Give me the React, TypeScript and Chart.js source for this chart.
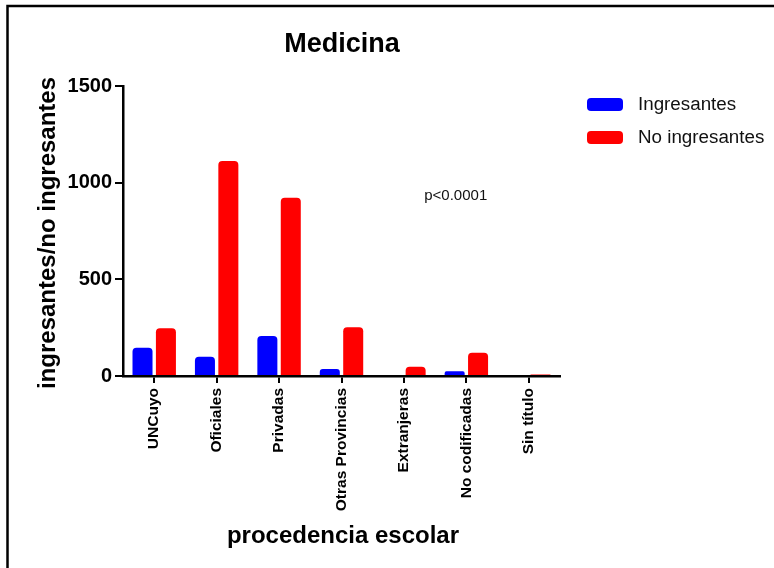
import React, { useEffect, useRef } from "react";
import { Chart, registerables } from "chart.js";

Chart.register(...registerables);

const categories = ["UNCuyo", "Oficiales", "Privadas", "Otras Provincias", "Extranjeras", "No codificadas", "Sin título"];
const ingresantes = [146, 100, 207, 36, 0, 24, 0];
const noIngresantes = [247, 1112, 922, 252, 48, 120, 8];
const yTicks = [0, 500, 1000, 1500];
const seriesNames = ["Ingresantes", "No ingresantes"];
const seriesColors = ["#0000FF", "#FF0000"];
const titleText = "Medicina";
const xTitle = "procedencia escolar";
const yTitle = "ingresantes/no ingresantes";
const pText = "p<0.0001";

const FONT = "'Liberation Sans', Arial, Helvetica, sans-serif";

const decorPlugin = {
  id: "decor",
  afterDraw(chart: any) {
    const ctx = chart.ctx as CanvasRenderingContext2D;
    const x = chart.scales.x;
    const y = chart.scales.y;
    ctx.save();
    // frame
    ctx.strokeStyle = "#000";
    ctx.lineWidth = 2.5;
    ctx.beginPath();
    ctx.moveTo(7.5, 568);
    ctx.lineTo(7.5, 6);
    ctx.lineTo(774, 6);
    ctx.stroke();
    // title
    ctx.fillStyle = "#000";
    ctx.textAlign = "center";
    ctx.textBaseline = "alphabetic";
    ctx.font = `bold 27px ${FONT}`;
    ctx.fillText(titleText, 342, 52);
    // x title
    ctx.font = `bold 24px ${FONT}`;
    ctx.fillText(xTitle, 343, 543);
    // y title
    ctx.save();
    ctx.translate(55, 233);
    ctx.rotate(-Math.PI / 2);
    ctx.textBaseline = "alphabetic";
    ctx.fillText(yTitle, 0, 0);
    ctx.restore();
    // p value annotation placed in data coordinates
    const px0 = x.getPixelForValue(4);
    const px1 = x.getPixelForValue(5);
    const px = px0 + 0.83 * (px1 - px0);
    const py = y.getPixelForValue(930);
    ctx.font = `15px ${FONT}`;
    ctx.textBaseline = "middle";
    ctx.fillStyle = "#111";
    ctx.fillText(pText, px, py);
    // legend
    chart.data.datasets.forEach((ds: any, i: number) => {
      const by = 98 + i * 33;
      ctx.fillStyle = ds.backgroundColor;
      ctx.beginPath();
      (ctx as any).roundRect(587, by, 36, 13, 4);
      ctx.fill();
      ctx.fillStyle = "#111";
      ctx.font = `18.8px ${FONT}`;
      ctx.textAlign = "left";
      ctx.textBaseline = "middle";
      ctx.fillText(ds.label, 638, by + 7);
    });
    ctx.restore();
  },
};

export default function App() {
  const ref = useRef<HTMLCanvasElement | null>(null);
  useEffect(() => {
    if (!ref.current) return;
    const chart = new Chart(ref.current, {
      type: "bar",
      data: {
        labels: categories,
        datasets: [
          {
            label: seriesNames[0],
            data: ingresantes,
            backgroundColor: seriesColors[0],
            borderRadius: { topLeft: 4, topRight: 4, bottomLeft: 0, bottomRight: 0 },
            borderSkipped: "bottom",
            categoryPercentage: 0.75,
            barPercentage: 0.855,
          },
          {
            label: seriesNames[1],
            data: noIngresantes,
            backgroundColor: seriesColors[1],
            borderRadius: { topLeft: 4, topRight: 4, bottomLeft: 0, bottomRight: 0 },
            borderSkipped: "bottom",
            categoryPercentage: 0.75,
            barPercentage: 0.855,
          },
        ],
      },
      options: {
        responsive: false,
        animation: false,
        devicePixelRatio: 1,
        layout: { padding: { left: 0, right: 214, top: 86, bottom: 0 } },
        plugins: {
          legend: { display: false },
          title: { display: false },
          tooltip: { enabled: false },
        },
        scales: {
          x: {
            grid: {
              offset: false,
              drawOnChartArea: false,
              drawTicks: true,
              tickLength: 7,
              color: "#000",
              lineWidth: 2,
            },
            border: { display: true, color: "#000", width: 2.5 },
            ticks: {
              autoSkip: false,
              maxRotation: 90,
              minRotation: 90,
              padding: 5,
              color: "#000",
              font: { family: FONT, size: 15.5, weight: "bold" },
            },
            afterFit(scale: any) {
              scale.height = 192;
            },
          },
          y: {
            min: 0,
            max: 1500,
            afterBuildTicks(scale: any) {
              scale.ticks = yTicks.map((v) => ({ value: v }));
            },
            grid: {
              drawOnChartArea: false,
              drawTicks: true,
              tickLength: 8,
              color: "#000",
              lineWidth: 2,
            },
            border: { display: true, color: "#000", width: 2.5 },
            ticks: {
              padding: 3,
              color: "#000",
              font: { family: FONT, size: 20, weight: "bold" },
              callback: (v: any) => String(v),
            },
            afterFit(scale: any) {
              scale.width = 123;
            },
          },
        },
      },
      plugins: [decorPlugin],
    } as any);
    return () => chart.destroy();
  }, []);
  return (
    <div style={{ position: "fixed", left: 0, top: 0, width: 774, height: 568, background: "#fff" }}>
      <canvas ref={ref} width={774} height={568} style={{ display: "block" }} />
    </div>
  );
}
